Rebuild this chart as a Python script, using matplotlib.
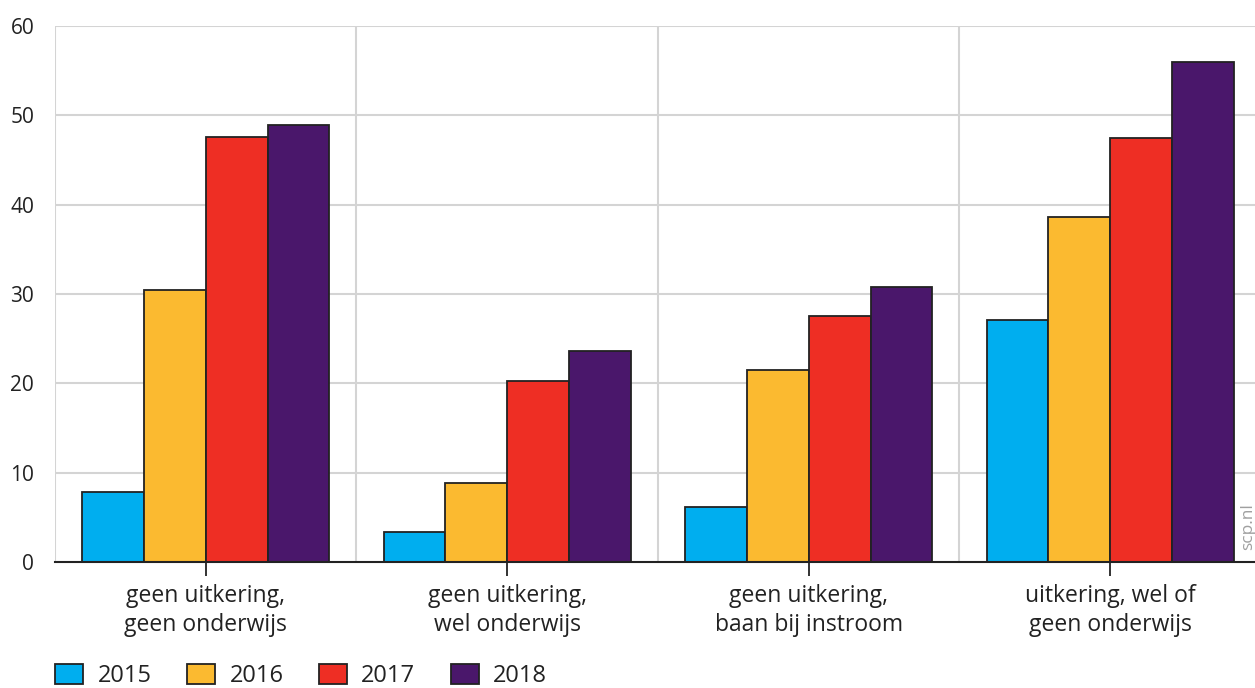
import matplotlib.pyplot as plt
import numpy as np
from matplotlib.patches import Patch

groepen = ["geen uitkering,\ngeen onderwijs", "geen uitkering,\nwel onderwijs",
           "geen uitkering,\nbaan bij instroom", "uitkering, wel of\ngeen onderwijs"]
jaren = ["2015", "2016", "2017", "2018"]
waarden_2015 = [7.8, 3.4, 6.2, 27.1]
waarden_2016 = [30.5, 8.8, 21.5, 38.6]
waarden_2017 = [47.6, 20.3, 27.5, 47.5]
waarden_2018 = [48.9, 23.6, 30.8, 56.0]
kleuren = ["#00AEEF", "#FBBA30", "#EE2E24", "#4A176B"]

plt.rcParams['font.family'] = ['Open Sans', 'DejaVu Sans']

fig = plt.figure(figsize=(12.55, 6.88), dpi=100)
ax = fig.add_axes([55/1255, 126/688, 1206/1255, 536/688])

x = np.arange(len(groepen))
w = 0.205
reeksen = [waarden_2015, waarden_2016, waarden_2017, waarden_2018]
for i, (vals, kleur) in enumerate(zip(reeksen, kleuren)):
    ax.bar(x + (i - 1.5) * w, vals, w, color=kleur, edgecolor='#222222', linewidth=1.3, zorder=3)

ax.set_xlim(-0.5, 3.5)
ax.set_ylim(0, 60)
ax.set_yticks(range(0, 61, 10))
ax.set_xticks(x)
ax.set_xticklabels(groepen, fontsize=16.5, color='#222222', linespacing=1.25)
ax.tick_params(axis='x', length=10, width=1.3, color='#222222', pad=6)
ax.tick_params(axis='y', length=0, pad=15, labelsize=15, labelcolor='#222222')

# grid: horizontal lines and vertical separators between groups
for yv in range(10, 61, 10):
    ax.axhline(yv, color='#d4d4d4', linewidth=1.5, zorder=1)
for xv in [-0.5, 0.5, 1.5, 2.5]:
    ax.axvline(xv, color='#d4d4d4', linewidth=1.5, zorder=1)

for s in ['top', 'right', 'left']:
    ax.spines[s].set_visible(False)
ax.spines['bottom'].set_color('#222222')
ax.spines['bottom'].set_linewidth(1.5)
ax.spines['bottom'].set_zorder(4)

fig.text(1248/1255, (688-527)/688, "scp.nl", rotation=90, color='#a0a0a0', fontsize=12.5,
         ha='center', va='center')

handles = [Patch(facecolor=k, edgecolor='#222222', linewidth=1.3) for k in kleuren]
fig.legend(handles, jaren, loc='lower left', bbox_to_anchor=(55/1255, 0), ncol=4,
           frameon=False, fontsize=17, handlelength=1.2, handleheight=0.95,
           columnspacing=1.5, handletextpad=0.6, borderpad=0, borderaxespad=0,
           labelcolor='#222222')

fig.savefig("out.png", dpi=100)
